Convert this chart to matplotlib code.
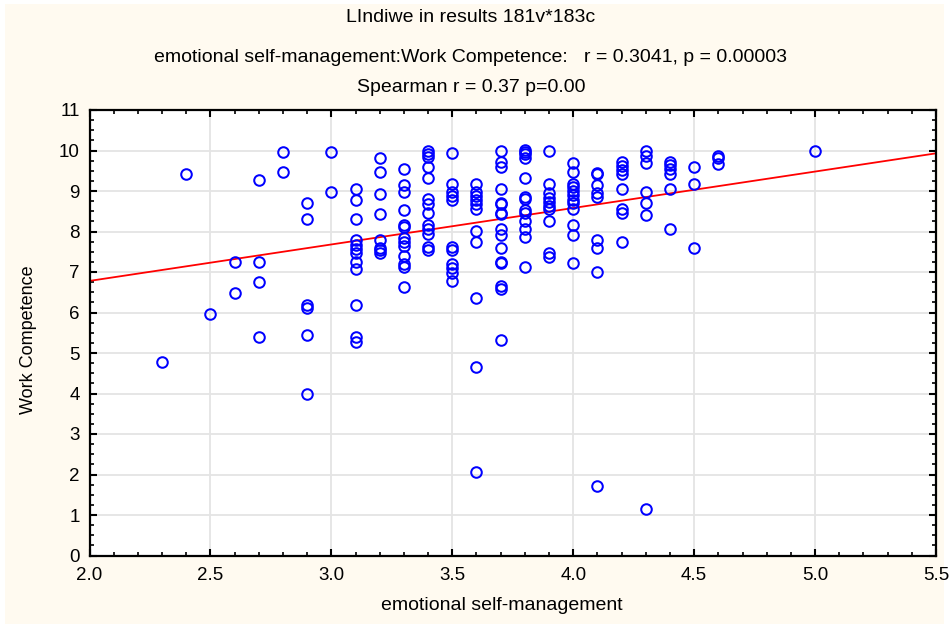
import numpy as np
import matplotlib as mpl
mpl.rcParams['font.family'] = ['Liberation Sans', 'DejaVu Sans']
mpl.rcParams['font.size'] = 13.
from matplotlib import pyplot as plt
import matplotlib.ticker as ticker
from matplotlib.patches import Rectangle

# emotional self-management score (one column per value) and Work Competence values read per column
esm_levels = [2.3, 2.4, 2.5, 2.6, 2.7, 2.8, 2.9, 3.0, 3.1, 3.2, 3.3, 3.4, 3.5,
              3.6, 3.7, 3.8, 3.9, 4.0, 4.1, 4.2, 4.3, 4.4, 4.5, 4.6, 5.0]
work_comp = [
    [4.78],
    [9.41],
    [5.97],
    [7.25, 6.49],
    [9.27, 7.25, 6.76, 5.40],
    [9.97, 9.46],
    [8.71, 8.31, 6.19, 6.10, 5.44, 3.99],
    [9.97, 8.97],
    [9.05, 8.79, 8.31, 7.80, 7.66, 7.58, 7.46, 7.25, 7.08, 6.19, 5.40, 5.27],
    [9.81, 9.46, 8.93, 8.44, 7.79, 7.60, 7.54, 7.47],
    [9.54, 9.16, 8.97, 8.53, 8.15, 8.10, 7.85, 7.74, 7.64, 7.39, 7.19, 7.12, 6.63],
    [9.99, 9.91, 9.84, 9.60, 9.32, 8.80, 8.69, 8.46, 8.16, 8.07, 7.93, 7.62, 7.54],
    [9.94, 9.17, 8.97, 8.87, 8.79, 7.62, 7.54, 7.19, 7.11, 6.98, 6.78],
    [9.18, 8.97, 8.87, 8.77, 8.67, 8.56, 8.01, 7.74, 6.37, 4.65, 2.05],
    [9.98, 9.71, 9.60, 9.05, 8.71, 8.67, 8.46, 8.43, 8.05, 7.92, 7.60, 7.25,
     7.21, 6.65, 6.58, 5.31],
    [10.01, 9.96, 9.91, 9.81, 9.32, 8.86, 8.81, 8.53, 8.46, 8.26, 8.05, 7.87, 7.13],
    [9.98, 9.18, 8.94, 8.82, 8.72, 8.62, 8.56, 8.26, 7.47, 7.37],
    [9.68, 9.46, 9.18, 9.09, 8.99, 8.89, 8.79, 8.71, 8.56, 8.17, 7.92, 7.21],
    [9.45, 9.42, 9.15, 8.95, 8.85, 7.79, 7.60, 6.99, 1.71],
    [9.72, 9.61, 9.53, 9.41, 9.05, 8.56, 8.46, 7.74],
    [9.99, 9.86, 9.68, 8.97, 8.71, 8.40, 1.14],
    [9.72, 9.64, 9.55, 9.41, 9.06, 8.05],
    [9.59, 9.18, 7.60],
    [9.86, 9.81, 9.66],
    [9.98],
]
# regression line: slope, intercept
fit_coef = [0.90, 4.98]

titles = ["LIndiwe in results 181v*183c",
          "emotional self-management:Work Competence:   r = 0.3041, p = 0.00003",
          "Spearman r = 0.37 p=0.00"]

x = np.concatenate([[c] * len(w) for c, w in zip(esm_levels, work_comp)])
y = np.concatenate(work_comp)

W, H = 952, 628
fig = plt.figure(figsize=(W / 100, H / 100), dpi=100)
fig.patch.set_facecolor('white')
fig.add_artist(Rectangle((5 / W, 4 / H), 939 / W, 620 / H, transform=fig.transFigure,
                         facecolor='#fffaf0', edgecolor='none', zorder=-10))

ax = fig.add_axes([89.5 / W, 1 - 555.5 / H, (936 - 89.5) / W, (555.5 - 110) / H])
ax.set_facecolor('white')

ax.plot(x, y, 'o', mfc='none', mec='#0000ff', ms=7.6, mew=1.45, zorder=3)
xx = np.array([2.0, 5.5])
ax.plot(xx, np.polyval(fit_coef, xx), color='#ff0000', lw=1.3, zorder=2)

ax.set_xlim(2.0, 5.5)
ax.set_ylim(0, 11)
ax.xaxis.set_major_locator(ticker.MultipleLocator(0.5))
ax.xaxis.set_minor_locator(ticker.MultipleLocator(0.1))
ax.xaxis.set_major_formatter(ticker.FormatStrFormatter('%.1f'))
ax.yaxis.set_major_locator(ticker.MultipleLocator(1))
ax.yaxis.set_minor_locator(ticker.MultipleLocator(0.25))

ax.tick_params(which='both', direction='in', top=True, right=True, labelsize=13.5, color='black')
ax.tick_params(which='major', length=5, width=1.5)
ax.tick_params(which='minor', length=3, width=1.2)
ax.tick_params(axis='y', pad=7)
ax.tick_params(axis='x', pad=8)
for s in ax.spines.values():
    s.set_linewidth(1.6)
ax.grid(True, which='major', color='#e4e4e4', lw=1.3)
ax.set_axisbelow(True)

fig.text(471 / W, 1 - 18 / H, titles[0], ha='center', va='center', fontsize=14)
fig.text(471 / W, 1 - 57 / H, titles[1], ha='center', va='center', fontsize=14)
fig.text(471 / W, 1 - 87 / H, titles[2], ha='center', va='center', fontsize=14)
fig.text(502 / W, 1 - 606 / H, "emotional self-management", ha='center', va='center', fontsize=14)
fig.text(29 / W, 1 - 340 / H, "Work Competence", ha='center', va='center',
         rotation=90, fontsize=13)

plt.savefig('out.png', dpi=100, facecolor=fig.get_facecolor())
